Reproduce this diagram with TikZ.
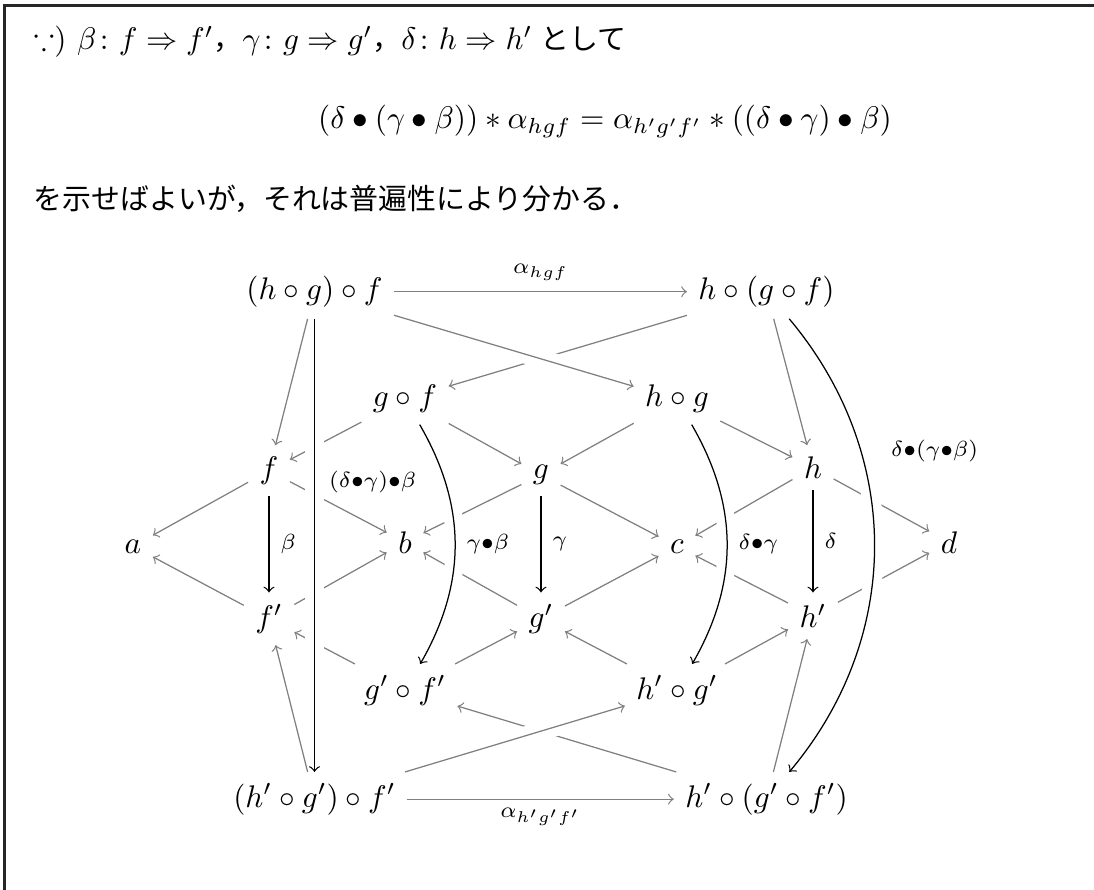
\documentclass[tikz,border=0pt]{standalone}
\usepackage{amsmath,amssymb}
\usepackage{fontspec}
\newfontfamily\jp[Scale=0.925]{Noto Sans CJK JP}
\begin{document}
\begin{tikzpicture}[x=0.32pt,y=-0.32pt,
  obj/.style={inner sep=3.5pt, anchor=base},
  garr/.style={->, draw=black!50},
  barr/.style={->, draw=black},
  over/.style={preaction={draw=white, -, line width=6pt}},
  lab/.style={inner sep=3.5pt},
  txt/.style={inner sep=0pt, anchor=base west}]
\useasboundingbox (0,0) rectangle (1094,890);
\draw[line width=0.65pt, black!85] (4.5,890) -- (4.5,5.5) -- (1094,5.5);
% text
\node[txt] (l1) at (33,50) {$\because$) $\beta\colon f\Rightarrow f'$\hspace{0pt}{\jp ，}$\gamma\colon g\Rightarrow g'$\hspace{0pt}{\jp ，}$\delta\colon h\Rightarrow h'$\hspace{2.5pt}{\jp として}};
\node[inner sep=0pt, anchor=base] (eq) at (605,129) {$\displaystyle (\delta\bullet(\gamma\bullet\beta))*\alpha_{hgf}=\alpha_{h'g'f'}*((\delta\bullet\gamma)\bullet\beta)$};
\node[txt] (l3) at (33,210) {\jp を示せばよいが，それは普遍性により分かる．};
% objects
\node[obj] (TL) at (314.5,299.5) {$(h\circ g)\circ f$};
\node[obj] (TR) at (766.5,299.5) {$h\circ(g\circ f)$};
\node[obj] (gf) at (405,407) {$g\circ f$};
\node[obj] (hg) at (677,407) {$h\circ g$};
\node[obj] (f) at (269,478.5) {$f$};
\node[obj] (g) at (541,478.5) {$g$};
\node[obj] (h) at (813,478.5) {$h$};
\node[obj] (a) at (133,553) {$a$};
\node[obj] (b) at (405,553) {$b$};
\node[obj] (c) at (677,553) {$c$};
\node[obj] (d) at (949,553) {$d$};
\node[obj] (fp) at (269,627.5) {$f'$};
\node[obj] (gp) at (541,627.5) {$g'$};
\node[obj] (hp) at (813,627.5) {$h'$};
\node[obj] (gpfp) at (405,699) {$g'\circ f'$};
\node[obj] (hpgp) at (677,699) {$h'\circ g'$};
\node[obj] (BL) at (314.5,807) {$(h'\circ g')\circ f'$};
\node[obj] (BR) at (766.5,807) {$h'\circ(g'\circ f')$};
% lines passing under others
\draw[garr] (TR) -- (gf);
\draw[garr] (gf) -- (f);
\draw[garr] (f) -- (b);
\draw[garr] (g) -- (b);
\draw[garr] (h) -- (c);
\draw[garr] (h) -- (d);
\draw[garr] (fp) -- (b);
\draw[garr] (gp) -- (b);
\draw[garr] (hp) -- (c);
\draw[garr] (hp) -- (d);
\draw[garr] (gpfp) -- (fp);
\draw[garr] (BR) -- (gpfp);
% lines passing over
\draw[garr, over] (TL) -- (hg);
\draw[garr, over] (BL) -- (hpgp);
\draw[barr, over] (TL) -- node[lab, pos=0.36, right=1pt] {$\scriptstyle(\delta\bullet\gamma)\bullet\beta$} (BL);
\draw[barr, over] (gf) to[bend left=30] node[lab, right] {$\scriptstyle\gamma\bullet\beta$} (gpfp);
\draw[barr, over] (hg) to[bend left=30] node[lab, right] {$\scriptstyle\delta\bullet\gamma$} (hpgp);
\draw[barr, over] (TR) to[bend left=40] node[lab, pos=0.3, anchor=west, xshift=6pt] {$\scriptstyle\delta\bullet(\gamma\bullet\beta)$} (BR);
% remaining lines
\draw[garr] (TL) -- node[lab, above] {$\scriptstyle\alpha_{hgf}$} (TR);
\draw[garr] (BL) -- node[lab, below, inner sep=2.5pt] {$\scriptstyle\alpha_{h'g'f'}$} (BR);
\draw[garr] (TL) -- (f);
\draw[garr] (TR) -- (h);
\draw[garr] (gf) -- (g);
\draw[garr] (hg) -- (g);
\draw[garr] (hg) -- (h);
\draw[garr] (f) -- (a);
\draw[garr] (g) -- (c);
\draw[garr] (fp) -- (a);
\draw[garr] (gp) -- (c);
\draw[garr] (gpfp) -- (gp);
\draw[garr] (hpgp) -- (gp);
\draw[garr] (hpgp) -- (hp);
\draw[garr] (BL) -- (fp);
\draw[garr] (BR) -- (hp);
\draw[barr] (f) -- node[lab, right] {$\scriptstyle\beta$} (fp);
\draw[barr] (g) -- node[lab, right] {$\scriptstyle\gamma$} (gp);
\draw[barr] (h) -- node[lab, right] {$\scriptstyle\delta$} (hp);
\end{tikzpicture}
\end{document}
